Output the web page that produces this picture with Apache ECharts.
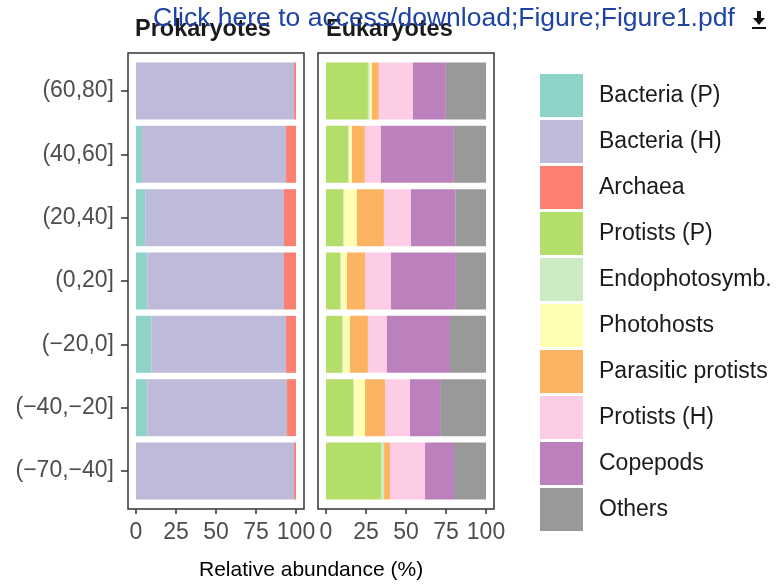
<!DOCTYPE html>
<html>
<head>
<meta charset="utf-8">
<script src="https://cdn.jsdelivr.net/npm/echarts@6/dist/echarts.min.js"></script>
<style>
  html, body { margin: 0; padding: 0; background: #fff; }
  #chart { width: 778px; height: 587px; }
</style>
</head>
<body>
<div id="chart"></div>
<script>
// latitude bands, bottom to top
const categories = ['(−70,−40]', '(−40,−20]', '(−20,0]', '(0,20]', '(20,40]', '(40,60]', '(60,80]'];
const xTicks = [0, 25, 50, 75, 100];

// Prokaryotes (%)
const bacteriaP = [0, 7.1, 9.6, 7.1, 5.8, 3.8, 0];
const bacteriaH = [98.8, 87.3, 84.2, 85.4, 86.7, 90.0, 98.8];
const archaea = [1.2, 5.6, 6.2, 7.5, 7.5, 6.2, 1.2];

// Eukaryotes (%)
const protistsP = [34.4, 16.9, 10.0, 8.8, 10.8, 14.0, 26.2];
const endophotosymb = [1.9, 0.6, 0.6, 0.6, 0.6, 0.6, 1.2];
const photohosts = [0, 6.9, 4.4, 3.7, 7.9, 1.6, 1.2];
const parasitic = [3.7, 12.5, 11.2, 11.3, 16.9, 8.1, 4.4];
const protistsH = [21.9, 15.6, 11.9, 16.2, 16.9, 10.0, 21.3];
const copepods = [18.1, 18.8, 39.4, 40.6, 27.7, 45.6, 20.6];
const others = [20.0, 28.7, 22.5, 18.8, 19.2, 20.1, 25.1];

const colors = {
  'Bacteria (P)': '#8DD3C7',
  'Bacteria (H)': '#BEBADA',
  'Archaea': '#FB8072',
  'Protists (P)': '#B3DE69',
  'Endophotosymb.': '#CCEBC5',
  'Photohosts': '#FFFFB3',
  'Parasitic protists': '#FDB462',
  'Protists (H)': '#FCCDE5',
  'Copepods': '#BC80BD',
  'Others': '#999999'
};

const FONT = '"Liberation Sans", Arial, Helvetica, sans-serif';

const chart = echarts.init(document.getElementById('chart'));

// panel geometry (ggplot style, 0.6 expansion on the discrete axis)
const panelTop = 53, panelBottom = 509;
const catH = (panelBottom - panelTop) / 7.2;
const gridTop = panelTop + catH * 0.1;
const gridBottomPx = panelBottom - catH * 0.1;

function mkSeries(name, data, idx) {
  return {
    name: name,
    type: 'bar',
    stack: 'p' + idx,
    xAxisIndex: idx,
    yAxisIndex: idx,
    data: data,
    barCategoryGap: '10%',
    itemStyle: { color: colors[name] },
    emphasis: { disabled: true }
  };
}

function xAxisOf(idx) {
  return {
    type: 'value',
    gridIndex: idx,
    min: -5, max: 105,
    offset: panelBottom - gridBottomPx,
    axisLine: { show: false, onZero: false },
    axisTick: { show: true, length: 5, customValues: xTicks, lineStyle: { color: '#333', width: 1.5 } },
    axisLabel: { color: '#4d4d4d', fontSize: 23, fontFamily: FONT, margin: 12, customValues: xTicks },
    splitLine: { show: false }
  };
}

const option = {
  animation: false,
  backgroundColor: '#fff',
  grid: [
    { left: 128, width: 176, top: gridTop, height: gridBottomPx - gridTop },
    { left: 318, width: 176, top: gridTop, height: gridBottomPx - gridTop }
  ],
  xAxis: [xAxisOf(0), xAxisOf(1)],
  yAxis: [
    {
      type: 'category', gridIndex: 0, data: categories,
      axisLine: { show: false, onZero: false },
      axisTick: { show: true, alignWithLabel: true, length: 7, lineStyle: { color: '#333', width: 1.5 } },
      axisLabel: { color: '#4d4d4d', fontSize: 23, fontFamily: FONT, margin: 14 }
    },
    {
      type: 'category', gridIndex: 1, data: categories,
      axisLine: { show: false, onZero: false }, axisTick: { show: false }, axisLabel: { show: false }
    }
  ],
  legend: {
    orient: 'vertical',
    left: 540, top: 74, padding: 0,
    itemWidth: 43, itemHeight: 43, itemGap: 3,
    icon: 'rect',
    selectedMode: false,
    textStyle: { fontSize: 23, color: '#1a1a1a', fontFamily: FONT, padding: [0, 0, 0, 11] },
    data: Object.keys(colors)
  },
  graphic: [
    { type: 'rect', shape: { x: 128, y: panelTop, width: 176, height: panelBottom - panelTop },
      style: { fill: 'none', stroke: '#333', lineWidth: 1.5 }, z: 10 },
    { type: 'rect', shape: { x: 318, y: panelTop, width: 176, height: panelBottom - panelTop },
      style: { fill: 'none', stroke: '#333', lineWidth: 1.5 }, z: 10 },
    { type: 'text', left: 135, top: 18,
      style: { text: 'Prokaryotes', font: 'bold 23.5px ' + FONT, fill: '#1a1a1a' }, z: 5 },
    { type: 'text', left: 326, top: 18,
      style: { text: 'Eukaryotes', font: 'bold 23.5px ' + FONT, fill: '#1a1a1a' }, z: 5 },
    { type: 'text', left: 199, top: 560,
      style: { text: 'Relative abundance (%)', font: '21px ' + FONT, fill: '#000' } },
    { type: 'text', left: 153, top: 5,
      style: { text: 'Click here to access/download;Figure;Figure1.pdf', font: '26.5px ' + FONT, fill: '#1d43a3' }, z: 20 },
    { type: 'polygon', shape: { points: [[753, 18], [765, 18], [759, 25]] }, style: { fill: '#111' }, z: 20 },
    { type: 'rect', shape: { x: 757, y: 11, width: 4, height: 8 }, style: { fill: '#111' }, z: 20 },
    { type: 'rect', shape: { x: 752, y: 27, width: 14, height: 2 }, style: { fill: '#111' }, z: 20 }
  ],
  series: [
    mkSeries('Bacteria (P)', bacteriaP, 0),
    mkSeries('Bacteria (H)', bacteriaH, 0),
    mkSeries('Archaea', archaea, 0),
    mkSeries('Protists (P)', protistsP, 1),
    mkSeries('Endophotosymb.', endophotosymb, 1),
    mkSeries('Photohosts', photohosts, 1),
    mkSeries('Parasitic protists', parasitic, 1),
    mkSeries('Protists (H)', protistsH, 1),
    mkSeries('Copepods', copepods, 1),
    mkSeries('Others', others, 1)
  ]
};

chart.setOption(option);
</script>
</body>
</html>
